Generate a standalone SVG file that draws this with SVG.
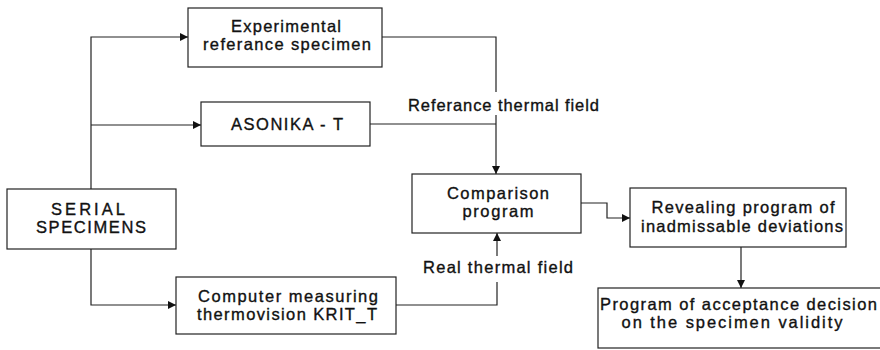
<svg xmlns="http://www.w3.org/2000/svg" width="880" height="350" viewBox="0 0 880 350">
<defs>
<marker id="ah" viewBox="0 0 10 10" refX="10" refY="5" markerWidth="10" markerHeight="8" markerUnits="userSpaceOnUse" orient="auto">
<path d="M0,0 L10,5 L0,10 z" fill="#111"/>
</marker>
<style>
.box{fill:#fff;stroke:#222;stroke-width:1.2}
.ln{fill:none;stroke:#222;stroke-width:1.2}
.t{font-family:"Liberation Sans",Arial,sans-serif;font-size:16.5px;fill:#111;stroke:#111;stroke-width:0.35px;text-anchor:middle}
.s{text-anchor:start}
</style>
</defs>
<rect width="880" height="350" fill="#fff"/>
<g id="connectors">
<path class="ln" d="M91,189 V37 H188" marker-end="url(#ah)"/>
<path class="ln" d="M91,125 H201" marker-end="url(#ah)"/>
<path class="ln" d="M91,249 V305 H176" marker-end="url(#ah)"/>
<path class="ln" d="M382,37 H496 V92"/>
<path class="ln" d="M370,124 H496"/>
<path class="ln" d="M496,115 V174" marker-end="url(#ah)"/>
<path class="ln" d="M396,305 H497 V282"/>
<path class="ln" d="M497,256 V233" marker-end="url(#ah)"/>
<path class="ln" d="M581,203 H607 V218 H630" marker-end="url(#ah)"/>
<path class="ln" d="M741,247 V288" marker-end="url(#ah)"/>
</g>
<g id="lbl-ref">
<text class="t" x="503.5" y="111" textLength="191">Referance thermal field</text>
</g>
<g id="lbl-real">
<text class="t" x="498" y="273" textLength="150">Real thermal field</text>
</g>
<g id="n-exp">
<rect class="box" x="188" y="8" width="194" height="59"/>
<text class="t" x="286" y="32" textLength="110">Experimental</text>
<text class="t" x="287" y="50" textLength="168">referance specimen</text>
</g>
<g id="n-asonika">
<rect class="box" x="201" y="102" width="169" height="44"/>
<text class="t" x="287" y="130" textLength="112">ASONIKA - T</text>
</g>
<g id="n-serial">
<rect class="box" x="7" y="189" width="169" height="60"/>
<text class="t" x="88" y="215" textLength="74">SERIAL</text>
<text class="t" x="91" y="233" textLength="110">SPECIMENS</text>
</g>
<g id="n-computer">
<rect class="box" x="176" y="277" width="220" height="57"/>
<text class="t" x="288" y="302" textLength="180">Computer measuring</text>
<text class="t" x="287" y="320" textLength="180">thermovision KRIT_T</text>
</g>
<g id="n-compare">
<rect class="box" x="412" y="174" width="169" height="59"/>
<text class="t" x="498" y="199" textLength="102">Comparison</text>
<text class="t" x="498" y="217" textLength="71">program</text>
</g>
<g id="n-reveal">
<rect class="box" x="630" y="188" width="216" height="59"/>
<text class="t" x="743" y="213" textLength="183">Revealing program of</text>
<text class="t" x="742" y="232" textLength="202">inadmissable deviations</text>
</g>
<g id="n-accept">
<rect class="box" x="598" y="288" width="290" height="60"/>
<text class="t s" x="600" y="310" textLength="277">Program of acceptance decision</text>
<text class="t" x="732" y="328" textLength="221">on the specimen validity</text>
</g>
</svg>
